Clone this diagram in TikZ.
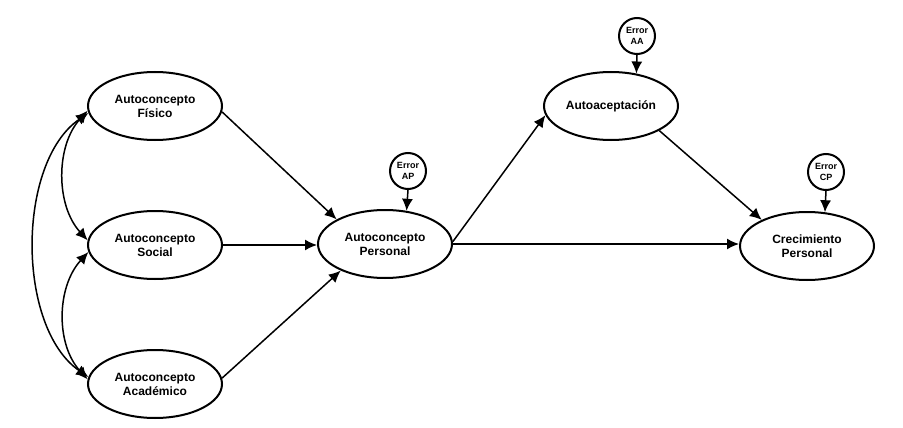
\documentclass[tikz,border=0pt]{standalone}
\usepackage{fontspec}
\setmainfont{Liberation Sans}
\usetikzlibrary{arrows.meta,shapes.geometric}
\begin{document}
\begin{tikzpicture}[x=1pt,y=-1pt,
  var/.style={ellipse,draw,line width=2pt,minimum width=134pt,minimum height=68pt,inner sep=0pt,
    font=\fontsize{12}{14}\selectfont\bfseries,align=center},
  err/.style={circle,draw,line width=2pt,minimum size=36pt,inner sep=0pt,
    font=\fontsize{9}{11.5}\selectfont\bfseries,align=center},
  path/.style={line width=1.5pt,-{Latex[length=12pt,width=11pt]}},
  cov/.style={line width=1.5pt,{Latex[length=12pt,width=11pt]}-{Latex[length=12pt,width=11pt]}}]
\useasboundingbox (0,0) rectangle (903,428);
\node[var] (fis) at (155,106) {Autoconcepto\\Físico};
\node[var] (soc) at (155,245) {Autoconcepto\\Social};
\node[var] (aca) at (155,384) {Autoconcepto\\Académico};
\node[var] (per) at (385,244) {Autoconcepto\\Personal};
\node[var] (aa) at (611,106) {Autoaceptación};
\node[var] (cp) at (807,246) {Crecimiento\\Personal};
\node[err] (eap) at (408,171) {Error\\AP};
\node[err] (eaa) at (637,36) {Error\\AA};
\node[err] (ecp) at (826,172) {Error\\CP};
% paths
\draw[path] (fis.-5) -- (per.153);
\draw[path] (soc.east) -- (soc.east -| per.west);
\draw[path] (aca.5) -- (per.211);
\draw[path] (per.east) -- (per.east -| cp.west);
\draw[path] (per.2) -- (aa.188);
\draw[path] (aa.-27) -- (cp.150);
\draw[path] (eap.south) -- (per.57);
\draw[path] (eaa.south) -- (aa.52);
\draw[path] (ecp.south) -- (cp.62);
% covariances
\draw[cov] (fis.184) .. controls +(-32,35) and +(-32,-35) .. (soc.176);
\draw[cov] (soc.186) .. controls +(-32,35) and +(-32,-35) .. (aca.176);
\draw[cov] (fis.186) .. controls +(-72,50) and +(-72,-50) .. (aca.174);
\end{tikzpicture}
\end{document}
